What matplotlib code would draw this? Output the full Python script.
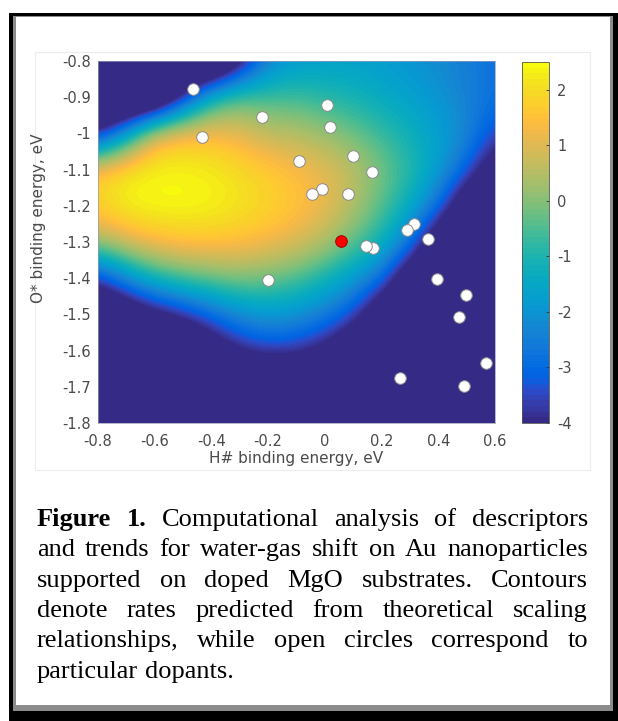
import numpy as np
import matplotlib
matplotlib.use("Agg")
import matplotlib.pyplot as plt
from matplotlib.colors import ListedColormap
from matplotlib.patches import Rectangle

# ---------------------------------------------------------------- data
# descriptor grid (eV)
h_binding = [-0.8, -0.7, -0.6, -0.5, -0.4, -0.3, -0.2, -0.1, 0.0, 0.1, 0.2, 0.3, 0.4, 0.5, 0.6]
o_binding = [-0.8, -0.9, -1.0, -1.1, -1.2, -1.3, -1.4, -1.5, -1.6, -1.7, -1.8]

# predicted log rate on the grid (rows follow o_binding, columns follow h_binding)
log_rate = [
    [-7.0, -7.0, -7.0, -7.0, -7.0, -4.8, -2.4, -1.9, -1.7, -1.7, -1.8, -2.0, -2.2, -2.5, -2.8],
    [-7.0, -7.0, -7.0, -3.8, -1.0, -0.3, -0.6, -0.6, -0.9, -1.1, -1.4, -1.7, -2.0, -2.4, -2.8],
    [-4.2, -1.8,  1.2,  1.5,  1.4,  1.1,  0.6,  0.5,  0.2, -0.2, -0.7, -1.2, -1.7, -2.2, -3.5],
    [ 1.7,  2.3,  2.4,  2.4,  2.3,  2.0,  1.7,  1.4,  1.1,  0.6, -0.1, -0.8, -1.7, -3.0, -5.0],
    [ 1.9,  2.4,  2.5,  2.5,  2.4,  2.2,  1.9,  1.6,  1.2,  0.5, -0.4, -1.3, -2.7, -5.5, -6.0],
    [ 0.3,  1.0,  1.4,  1.6,  1.6,  1.5,  1.3,  1.0,  0.5, -0.3, -1.1, -2.5, -5.5, -6.0, -6.0],
    [-3.8, -2.2, -1.0, -0.5, -0.2,  0.0, -0.2, -0.5, -1.1, -1.8, -2.7, -5.5, -6.0, -6.0, -6.0],
    [-6.0, -5.5, -4.6, -3.9, -3.0, -2.2, -1.8, -2.0, -2.5, -3.3, -5.5, -6.0, -6.0, -6.0, -6.0],
    [-6.0, -6.0, -6.0, -6.0, -5.0, -4.0, -3.6, -3.7, -4.3, -5.5, -6.0, -6.0, -6.0, -6.0, -6.0],
    [-6.0, -6.0, -6.0, -6.0, -6.0, -6.0, -6.0, -6.0, -6.0, -6.0, -6.0, -6.0, -6.0, -6.0, -6.0],
    [-6.0, -3.0, -6.0, -6.0, -6.0, -6.0, -6.0, -6.0, -6.0, -6.0, -6.0, -6.0, -6.0, -6.0, -6.0],
]

# dopant descriptors (open circles)
dopant_h = [-0.464, 0.009, -0.222, 0.018, -0.434, 0.098, -0.090, 0.165, -0.009, -0.044,
            0.082, 0.314, 0.288, 0.364, 0.169, 0.145, -0.202, 0.396, 0.496, 0.473,
            0.567, 0.264, 0.489]
dopant_o = [-0.878, -0.922, -0.954, -0.981, -1.011, -1.062, -1.076, -1.108, -1.154, -1.168,
            -1.168, -1.249, -1.266, -1.293, -1.317, -1.311, -1.405, -1.402, -1.447, -1.506,
            -1.635, -1.675, -1.698]

# undoped reference (red point)
ref_h = [0.057]
ref_o = [-1.297]

x_ticks = [-0.8, -0.6, -0.4, -0.2, 0.0, 0.2, 0.4, 0.6]
x_tick_labels = ["-0.8", "-0.6", "-0.4", "-0.2", "0", "0.2", "0.4", "0.6"]
y_ticks = [-0.8, -0.9, -1.0, -1.1, -1.2, -1.3, -1.4, -1.5, -1.6, -1.7, -1.8]
y_tick_labels = ["-0.8", "-0.9", "-1", "-1.1", "-1.2", "-1.3", "-1.4", "-1.5", "-1.6", "-1.7", "-1.8"]
cbar_ticks = [-4, -3, -2, -1, 0, 1, 2]
cbar_tick_labels = ["-4", "-3", "-2", "-1", "0", "1", "2"]
rate_limits = [-4.0, 2.5]

x_label = "H# binding energy, eV"
y_label = "O* binding energy, eV"

caption_lines = [
    [("Figure", True), ("1.", True), ("Computational", False), ("analysis", False),
     ("of", False), ("descriptors", False)],
    [(w, False) for w in "and trends for water-gas shift on Au nanoparticles".split()],
    [(w, False) for w in "supported on doped MgO substrates. Contours".split()],
    [(w, False) for w in "denote rates predicted from theoretical scaling".split()],
    [(w, False) for w in "relationships, while open circles correspond to".split()],
    [(w, False) for w in "particular dopants.".split()],
]

# parula colour table (64 entries)
parula_rgb = [
    [0.2081, 0.1663, 0.5292], [0.2116, 0.1898, 0.5777], [0.2123, 0.2138, 0.6270],
    [0.2081, 0.2386, 0.6771], [0.1959, 0.2645, 0.7279], [0.1707, 0.2919, 0.7792],
    [0.1253, 0.3242, 0.8303], [0.0591, 0.3598, 0.8683], [0.0117, 0.3875, 0.8820],
    [0.0060, 0.4086, 0.8828], [0.0165, 0.4266, 0.8786], [0.0329, 0.4430, 0.8720],
    [0.0498, 0.4586, 0.8641], [0.0629, 0.4737, 0.8554], [0.0723, 0.4887, 0.8467],
    [0.0779, 0.5040, 0.8384], [0.0793, 0.5200, 0.8312], [0.0749, 0.5375, 0.8263],
    [0.0641, 0.5570, 0.8240], [0.0488, 0.5772, 0.8228], [0.0343, 0.5966, 0.8199],
    [0.0265, 0.6137, 0.8135], [0.0239, 0.6287, 0.8038], [0.0231, 0.6418, 0.7913],
    [0.0228, 0.6535, 0.7768], [0.0267, 0.6642, 0.7607], [0.0384, 0.6743, 0.7436],
    [0.0590, 0.6838, 0.7254], [0.0843, 0.6928, 0.7062], [0.1133, 0.7015, 0.6859],
    [0.1453, 0.7098, 0.6646], [0.1801, 0.7177, 0.6424], [0.2178, 0.7250, 0.6193],
    [0.2586, 0.7317, 0.5954], [0.3022, 0.7376, 0.5712], [0.3482, 0.7424, 0.5473],
    [0.3953, 0.7459, 0.5244], [0.4420, 0.7481, 0.5033], [0.4871, 0.7491, 0.4840],
    [0.5300, 0.7491, 0.4661], [0.5709, 0.7485, 0.4494], [0.6099, 0.7473, 0.4337],
    [0.6473, 0.7456, 0.4188], [0.6834, 0.7435, 0.4044], [0.7184, 0.7411, 0.3905],
    [0.7525, 0.7384, 0.3768], [0.7858, 0.7356, 0.3633], [0.8185, 0.7327, 0.3498],
    [0.8507, 0.7299, 0.3360], [0.8824, 0.7274, 0.3217], [0.9139, 0.7258, 0.3063],
    [0.9450, 0.7261, 0.2886], [0.9739, 0.7314, 0.2666], [0.9938, 0.7455, 0.2403],
    [0.9990, 0.7653, 0.2164], [0.9955, 0.7861, 0.1967], [0.9880, 0.8066, 0.1794],
    [0.9789, 0.8271, 0.1633], [0.9697, 0.8481, 0.1475], [0.9626, 0.8705, 0.1309],
    [0.9589, 0.8949, 0.1132], [0.9598, 0.9218, 0.0948], [0.9661, 0.9514, 0.0755],
    [0.9763, 0.9831, 0.0538],
]

# ---------------------------------------------------------------- figure
W, H = 618, 721
DPI = 100
plt.rcParams["axes.unicode_minus"] = False
plt.rcParams["font.family"] = ["DejaVu Sans"]
fig = plt.figure(figsize=(W / DPI, H / DPI), dpi=DPI)
fig.patch.set_facecolor("white")


def frac_rect(x0, y0, x1, y1):
    """pixel box (top-left origin) -> figure-fraction [left, bottom, width, height]"""
    return [x0 / W, 1 - y1 / H, (x1 - x0) / W, (y1 - y0) / H]


def add_box(x0, y0, x1, y1, face, edge="none", lw=0, z=0):
    l, b, w, h = frac_rect(x0, y0, x1, y1)
    fig.patches.append(Rectangle((l, b), w, h, transform=fig.transFigure,
                                 facecolor=face, edgecolor=edge, linewidth=lw, zorder=z))


# framed panel with drop shadow
add_box(9, 13, 618, 721, "black", z=-10)
add_box(13, 16, 613, 711, "#8c8c8c", z=-9)
add_box(16, 17, 610, 705, "white", z=-8)
# plot window background
add_box(35, 52, 590, 470, "white", edge="#ececec", lw=0.8, z=-7)

ink = "#4a4a4a"
tick_fs = 10.5

ax = fig.add_axes(frac_rect(98, 61, 495, 423))
cmap = ListedColormap(parula_rgb, name="parula")
dx = h_binding[1] - h_binding[0]
dy = o_binding[0] - o_binding[1]
im = ax.imshow(np.array(log_rate), cmap=cmap, vmin=rate_limits[0], vmax=rate_limits[1],
               extent=[h_binding[0] - dx / 2, h_binding[-1] + dx / 2,
                       o_binding[-1] - dy / 2, o_binding[0] + dy / 2],
               origin="upper", aspect="auto", interpolation="bicubic",
               interpolation_stage="data")
ax.set_xlim(-0.8, 0.6)
ax.set_ylim(-1.8, -0.8)

ax.scatter(dopant_h, dopant_o, s=70, facecolor="white", edgecolor="#8a8a8a",
           linewidth=0.7, zorder=3)
ax.scatter(ref_h, ref_o, s=70, facecolor="#ff0000", edgecolor="#a00000",
           linewidth=0.7, zorder=4)

ax.set_xticks(x_ticks)
ax.set_xticklabels(x_tick_labels)
ax.set_yticks(y_ticks)
ax.set_yticklabels(y_tick_labels)
ax.tick_params(axis="both", length=0, labelsize=tick_fs, labelcolor=ink)
ax.tick_params(axis="x", pad=8)
ax.tick_params(axis="y", pad=5)
for sp in ax.spines.values():
    sp.set_color("#9a9ab8")
    sp.set_linewidth(0.5)

ax.set_xlabel(x_label, fontsize=11, color=ink, va="center")
ax.xaxis.set_label_coords(0.5, (423 - 459) / 362)
ax.set_ylabel(y_label, fontsize=11, color=ink, va="center")
ax.yaxis.set_label_coords((39 - 98) / 397, (423 - 218) / 362)

# colour bar
cax = fig.add_axes(frac_rect(522, 62, 549, 423))
cb = fig.colorbar(im, cax=cax, ticks=cbar_ticks)
cb.ax.set_yticklabels(cbar_tick_labels)
cb.ax.tick_params(direction="in", length=2.5, width=0.6, color="#333333",
                  labelsize=tick_fs, labelcolor=ink, pad=6)
cb.outline.set_edgecolor("#555555")
cb.outline.set_linewidth(0.6)

# ---------------------------------------------------------------- caption
cap_left, cap_right = 37, 588
baselines = [526, 556, 587, 617, 647, 678]
cap_fs = 19
renderer = fig.canvas.get_renderer()
for i, (words, base) in enumerate(zip(caption_lines, baselines)):
    items = []
    for w, bold in words:
        t = fig.text(0, 1 - base / H, w, fontsize=cap_fs, family="Liberation Serif",
                     weight="bold" if bold else "normal", color="black",
                     ha="left", va="baseline")
        items.append(t)
    widths = [t.get_window_extent(renderer).width for t in items]
    last = i == len(caption_lines) - 1
    if last or len(items) == 1:
        gap = fig.text(0, 0, " ", fontsize=cap_fs, family="Liberation Serif")
        gap_w = gap.get_window_extent(renderer).width
        gap.remove()
    else:
        gap_w = (cap_right - cap_left - sum(widths)) / (len(items) - 1)
    x = cap_left
    for t, w in zip(items, widths):
        t.set_x(x / W)
        x += w + gap_w

fig.savefig("out.png", dpi=DPI, facecolor="white")
